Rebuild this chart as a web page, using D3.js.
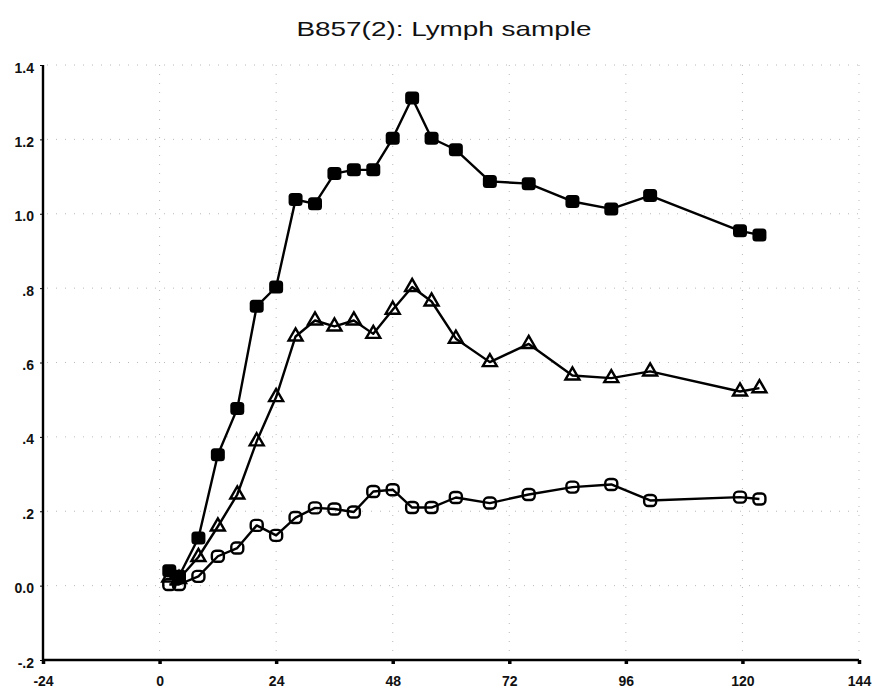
<!DOCTYPE html>
<html>
<head>
<meta charset="utf-8">
<script src="https://cdn.jsdelivr.net/npm/d3@7"></script>
<style>
  html, body { margin: 0; padding: 0; background: #fff; }
  svg { display: block; font-family: "Liberation Sans", Arial, Helvetica, sans-serif; }
</style>
</head>
<body>
<svg id="chart" width="874" height="692"></svg>
<script>
// Sampling times (hours)
const hours = [2, 4, 8, 12, 16, 20, 24, 28, 32, 36, 40, 44, 48, 52, 56, 61, 68, 76, 85, 93, 101, 119.5, 123.5];

// Measured series
const filledSquares = [0.040, 0.025, 0.128, 0.352, 0.476, 0.751, 0.803, 1.038, 1.027, 1.108, 1.118, 1.118,
                       1.203, 1.311, 1.203, 1.172, 1.087, 1.081, 1.033, 1.013, 1.049, 0.954, 0.943];
const openTriangles = [0.022, 0.018, 0.077, 0.159, 0.245, 0.388, 0.507, 0.670, 0.713, 0.697, 0.713, 0.677,
                       0.742, 0.803, 0.764, 0.664, 0.601, 0.650, 0.565, 0.558, 0.576, 0.522, 0.531];
const openSquares = [0.003, 0.003, 0.025, 0.079, 0.101, 0.162, 0.135, 0.183, 0.209, 0.206, 0.198, 0.253,
                     0.258, 0.210, 0.210, 0.237, 0.222, 0.245, 0.265, 0.272, 0.229, 0.238, 0.233];

// Axis ticks and labels
const xTicks = [-24, 0, 24, 48, 72, 96, 120, 144];
const xTickLabels = ["-24", "0", "24", "48", "72", "96", "120", "144"];
const yTicks = [-0.2, 0, 0.2, 0.4, 0.6, 0.8, 1.0, 1.2, 1.4];
const yTickLabels = ["-.2", "0.0", ".2", ".4", ".6", ".8", "1.0", "1.2", "1.4"];

const titleText = "B857(2): Lymph sample";

const svg = d3.select("#chart");

const x = d3.scaleLinear().domain([-24, 144]).range([43, 859]);
const y = d3.scaleLinear().domain([-0.2, 1.4]).range([660, 65]);

// Title (wide face)
svg.append("text")
  .attr("x", 444).attr("y", 36)
  .attr("text-anchor", "middle")
  .attr("font-size", 21)
  .attr("textLength", 295)
  .attr("lengthAdjust", "spacingAndGlyphs")
  .attr("fill", "#111")
  .text(titleText);

// Sparse dotted grid
const grid = svg.append("g").attr("stroke", "#777").attr("stroke-width", 1)
  .attr("stroke-dasharray", "1 8").attr("opacity", 0.5);
grid.selectAll("line.h").data(yTicks.filter(v => v > -0.2)).join("line")
  .attr("class", "h")
  .attr("x1", x(-24) + 4).attr("x2", x(144))
  .attr("y1", d => y(d)).attr("y2", d => y(d));
grid.selectAll("line.v").data(xTicks.filter(v => v > -24)).join("line")
  .attr("class", "v")
  .attr("x1", d => x(d)).attr("x2", d => x(d))
  .attr("y1", y(1.4)).attr("y2", y(-0.2) - 4);

// Y axis
const yAxis = d3.axisLeft(y)
  .tickValues(yTicks)
  .tickFormat((d, i) => yTickLabels[i])
  .tickSize(3)
  .tickPadding(6);
const gy = svg.append("g").attr("transform", `translate(${x(-24)},0)`).call(yAxis);
gy.select(".domain").attr("stroke", "#000").attr("stroke-width", 2.4)
  .attr("d", `M0,${y(1.4)}V${y(-0.2)}`);
gy.selectAll(".tick line").attr("stroke", "#000").attr("stroke-width", 1);
gy.selectAll(".tick text")
  .attr("font-size", 14).attr("font-weight", "bold").attr("fill", "#111")
  .attr("font-family", "'Liberation Sans', Arial, sans-serif")
  .attr("dy", "0.5em");

// X axis
const xAxis = d3.axisBottom(x)
  .tickValues(xTicks)
  .tickFormat((d, i) => xTickLabels[i])
  .tickSize(4)
  .tickPadding(12);
const gx = svg.append("g").attr("transform", `translate(0,${y(-0.2)})`).call(xAxis);
gx.select(".domain").attr("stroke", "#000").attr("stroke-width", 2.4)
  .attr("d", `M${x(-24)},0H${x(144)}`);
gx.selectAll(".tick line").attr("stroke", "#000").attr("stroke-width", 3.5);
gx.selectAll(".tick text")
  .attr("font-size", 14).attr("font-weight", "bold").attr("fill", "#111")
  .attr("font-family", "'Liberation Sans', Arial, sans-serif");

// Series lines and markers
const line = d3.line().x(d => x(d[0])).y(d => y(d[1]));
const series = [
  { values: openSquares, marker: "openSquare" },
  { values: openTriangles, marker: "triangle" },
  { values: filledSquares, marker: "filledSquare" }
];

series.forEach(s => {
  const pts = hours.map((h, i) => [h, s.values[i]]);
  svg.append("path")
    .datum(pts)
    .attr("fill", "none")
    .attr("stroke", "#000")
    .attr("stroke-width", 2.4)
    .attr("stroke-linejoin", "round")
    .attr("d", line);

  const g = svg.append("g");
  if (s.marker === "filledSquare") {
    g.selectAll("rect").data(pts).join("rect")
      .attr("x", d => x(d[0]) - 7).attr("y", d => y(d[1]) - 6.5)
      .attr("width", 14).attr("height", 13)
      .attr("rx", 3.5).attr("ry", 3.5)
      .attr("fill", "#000");
  } else if (s.marker === "openSquare") {
    g.selectAll("rect").data(pts).join("rect")
      .attr("x", d => x(d[0]) - 6).attr("y", d => y(d[1]) - 5.5)
      .attr("width", 12).attr("height", 11)
      .attr("rx", 4).attr("ry", 4)
      .attr("fill", "none")
      .attr("stroke", "#000").attr("stroke-width", 2.4);
  } else {
    const tri = d3.symbol().type(d3.symbolTriangle).size(85);
    g.selectAll("path").data(pts).join("path")
      .attr("transform", d => `translate(${x(d[0])},${y(d[1])})`)
      .attr("d", tri)
      .attr("fill", "none")
      .attr("stroke", "#000").attr("stroke-width", 2.4)
      .attr("stroke-linejoin", "miter");
  }
});
</script>
</body>
</html>
